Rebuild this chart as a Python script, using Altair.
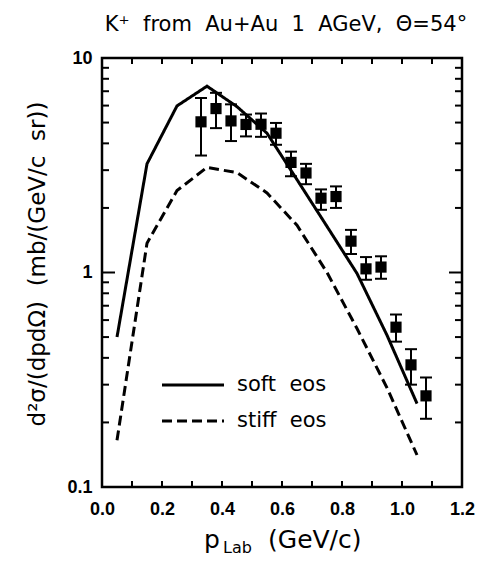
import altair as alt
import pandas as pd

# Measured K+ spectrum (Au+Au, 1 AGeV, theta = 54 deg)
p_lab = [0.33, 0.38, 0.43, 0.48, 0.53, 0.58, 0.63, 0.68, 0.73, 0.78,
         0.83, 0.88, 0.93, 0.98, 1.03, 1.08]
sigma = [5.04, 5.81, 5.09, 4.90, 4.91, 4.46, 3.26, 2.91, 2.22, 2.26,
         1.40, 1.04, 1.06, 0.556, 0.371, 0.266]
sigma_lo = [3.51, 4.71, 4.10, 4.31, 4.29, 3.94, 2.81, 2.58, 1.96, 2.00,
            1.22, 0.925, 0.935, 0.476, 0.300, 0.208]
sigma_hi = [6.51, 6.88, 6.08, 5.45, 5.51, 4.98, 3.66, 3.21, 2.44, 2.52,
            1.58, 1.18, 1.19, 0.637, 0.439, 0.324]

# Transport calculations for two equations of state
p_model = [0.05, 0.15, 0.25, 0.35, 0.45, 0.55, 0.65, 0.75, 0.85, 0.95, 1.05]
soft_eos = [0.50, 3.21, 5.98, 7.39, 5.93, 4.46, 2.71, 1.64, 0.99, 0.51, 0.245]
stiff_eos = [0.165, 1.37, 2.41, 3.09, 2.92, 2.35, 1.66, 1.00, 0.548, 0.29, 0.141]

model_names = ["soft eos", "stiff eos"]

# Axis tick values
x_labels = [0.0, 0.2, 0.4, 0.6, 0.8, 1.0, 1.2]
x_ticks = [0.1, 0.2, 0.3, 0.4, 0.5, 0.6, 0.7, 0.8, 0.9, 1.0, 1.1]
y_labels = [0.1, 1, 10]
y_major = [1]
y_minor = [0.2, 0.3, 0.4, 0.5, 0.6, 0.7, 0.8, 0.9, 2, 3, 4, 5, 6, 7, 8, 9]

W, H = 360, 429
TXT = "DejaVu Sans"
NUM = "Liberation Sans"

data_df = pd.DataFrame({"p": p_lab, "s": sigma, "lo": sigma_lo, "hi": sigma_hi})
model_df = pd.DataFrame({
    "p": p_model * 2,
    "v": soft_eos + stiff_eos,
    "model": [model_names[0]] * len(p_model) + [model_names[1]] * len(p_model),
})

xs = alt.Scale(domain=[0, 1.2], nice=False, zero=False)
ys = alt.Scale(type="log", domain=[0.1, 10], nice=False)

x_axis = alt.Axis(values=x_labels, format=".1f", title=None, grid=False, ticks=False,
                  domain=False, labelFont=NUM, labelFontWeight="bold", labelFontSize=18,
                  labelColor="black", labelPadding=13, labelFlush=False)
y_axis = alt.Axis(values=y_labels, format=".1~f", title=None, grid=False, ticks=False,
                  domain=False, labelFont=NUM, labelFontWeight="bold", labelFontSize=18,
                  labelColor="black", labelPadding=10, labelFlush=False)


def X(field):
    return alt.X(field, type="quantitative", scale=xs, axis=x_axis)


def Y(field):
    return alt.Y(field, type="quantitative", scale=ys, axis=y_axis)


curves = alt.Chart(model_df).mark_line(color="black", strokeWidth=3, clip=True).encode(
    x=X("p"), y=Y("v"),
    strokeDash=alt.StrokeDash("model:N", legend=None,
                              scale=alt.Scale(domain=model_names, range=[[1, 0], [10, 5]])),
)

err = alt.Chart(data_df).mark_rule(color="black", strokeWidth=2).encode(
    x=X("p"), y=Y("lo"), y2="hi")
cap_hi = alt.Chart(data_df).mark_rule(color="black", strokeWidth=2, xOffset=-6, x2Offset=6).encode(
    x=X("p"), x2="p", y=Y("hi"))
cap_lo = alt.Chart(data_df).mark_rule(color="black", strokeWidth=2, xOffset=-6, x2Offset=6).encode(
    x=X("p"), x2="p", y=Y("lo"))
points = alt.Chart(data_df).mark_square(color="black", opacity=1, size=125).encode(
    x=X("p"), y=Y("s"))

# Inward ticks on all four sides of the frame
xt_df = pd.DataFrame({"t": x_ticks})
xt_bottom = alt.Chart(xt_df).mark_rule(color="black", strokeWidth=2).encode(
    x=X("t"), y=alt.value(H), y2=alt.value(H - 6))
xt_top = alt.Chart(xt_df).mark_rule(color="black", strokeWidth=2).encode(
    x=X("t"), y=alt.value(0), y2=alt.value(6))

ymaj_df = pd.DataFrame({"t": y_major})
ymin_df = pd.DataFrame({"t": y_minor})
yt_layers = []
for df_, ln in ((ymaj_df, 13), (ymin_df, 7)):
    yt_layers.append(alt.Chart(df_).mark_rule(color="black", strokeWidth=2).encode(
        y=Y("t"), x=alt.value(0), x2=alt.value(ln)))
    yt_layers.append(alt.Chart(df_).mark_rule(color="black", strokeWidth=2).encode(
        y=Y("t"), x=alt.value(W), x2=alt.value(W - ln)))

# Titles and legend
one = pd.DataFrame({"k": [0]})


def label(text, x, y, size, font=TXT, angle=0, align="center", baseline="middle", weight="normal"):
    return alt.Chart(one).mark_text(
        text=text, font=font, fontSize=size, angle=angle, align=align,
        baseline=baseline, fontWeight=weight, color="black",
    ).encode(x=alt.value(x), y=alt.value(y))


nb = "\u00a0"
title = label(f"K⁺{nb}{nb}from{nb}{nb}Au+Au{nb}{nb}1{nb}{nb}AGeV,{nb}{nb}Θ=54°", 184, -33, 21)
ytitle = label(f"d²σ/(dpdΩ){nb}{nb}(mb/(GeV/c{nb}{nb}sr))", -64, 206, 23, angle=270)
xt_p = label("p", 102, 490, 25, align="left", baseline="alphabetic")
xt_lab = label("Lab", 121, 495, 16, align="left", baseline="alphabetic")
xt_unit = label("(GeV/c)", 166, 490, 25, align="left", baseline="alphabetic")

leg_solid = alt.Chart(one).mark_rule(color="black", strokeWidth=3).encode(
    x=alt.value(60), x2=alt.value(122), y=alt.value(327))
leg_dash = alt.Chart(one).mark_rule(color="black", strokeWidth=3, strokeDash=[10, 5]).encode(
    x=alt.value(60), x2=alt.value(122), y=alt.value(363))
leg_t1 = label(f"soft{nb}{nb}eos", 135, 327, 21, align="left")
leg_t2 = label(f"stiff{nb}{nb}eos", 135, 363, 21, align="left")

chart = alt.layer(
    curves, err, cap_hi, cap_lo, points, xt_bottom, xt_top, *yt_layers,
    title, ytitle, xt_p, xt_lab, xt_unit, leg_solid, leg_dash, leg_t1, leg_t2,
).properties(
    width=W, height=H,
    padding={"left": 102, "top": 58, "right": 16, "bottom": 78},
    autosize=alt.AutoSizeParams(type="none"),
    background="white",
).configure_view(stroke="black", strokeWidth=2.5)

chart.save("out.html", embed_options={"renderer": "svg", "actions": False})
